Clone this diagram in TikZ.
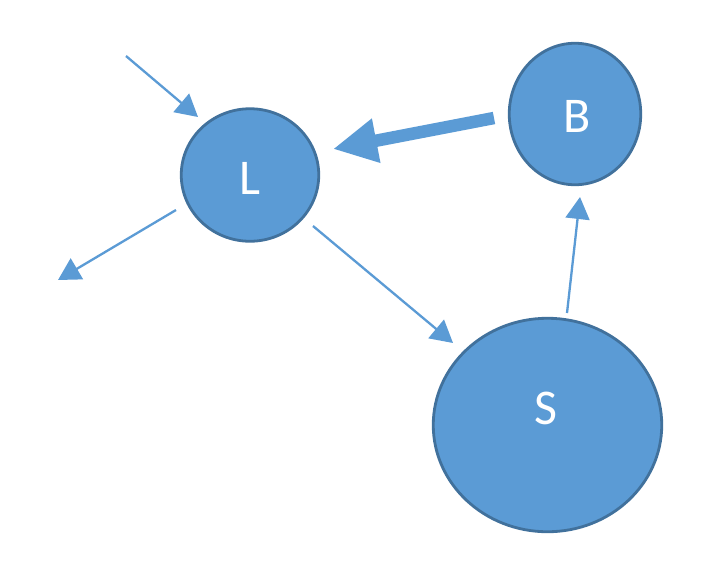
\documentclass[tikz,border=0pt]{standalone}
\usepackage{fontspec}
\setmainfont{Carlito}
\usetikzlibrary{arrows.meta,shapes.geometric}
\definecolor{nodefill}{HTML}{5B9BD5}
\definecolor{nodeline}{HTML}{41719C}
\begin{document}
\begin{tikzpicture}[x=1pt,y=-1pt,
  blob/.style={shape=ellipse,fill=nodefill,draw=nodeline,line width=2.8pt,inner sep=0pt,text=white,font=\fontsize{50}{60}\selectfont},
  blobtext/.style={text=white,font=\fontsize{50}{60}\selectfont,inner sep=0pt},
  thinarrow/.style={draw=nodefill,line width=2.3pt,-{Triangle[length=22pt,width=24pt]}},
  thickarrow/.style={draw=nodefill,line width=12.5pt,-{Triangle[length=44pt,width=42pt]}}]
\useasboundingbox[fill=white] (0,0) rectangle (720,574);
\node[blob,minimum width=137.5pt,minimum height=132.5pt] (L) at (250,175) {};
\node[blobtext] (Lt) at (250,178) {L};
\node[blob,minimum width=131.5pt,minimum height=141.5pt] (B) at (575,114) {};
\node[blobtext] (Bt) at (577,116) {B};
\node[blob,minimum width=228.5pt,minimum height=213.5pt] (S) at (547.5,425) {};
\node[blobtext] (St) at (546,408) {S};
\coordinate (inS) at (126,56);
\coordinate (inE) at (198,117);
\coordinate (outS) at (176,210);
\coordinate (outE) at (58,280);
\coordinate (lsS) at (313,226);
\coordinate (lsE) at (453,343);
\coordinate (sbS) at (567,313);
\coordinate (sbE) at (580,197);
\coordinate (blS) at (494,118);
\coordinate (blE) at (333,149);
\draw[thinarrow] (inS) -- (inE);
\draw[thinarrow] (outS) -- (outE);
\draw[thinarrow] (lsS) -- (lsE);
\draw[thinarrow] (sbS) -- (sbE);
\draw[thickarrow] (blS) -- (blE);
\end{tikzpicture}
\end{document}
